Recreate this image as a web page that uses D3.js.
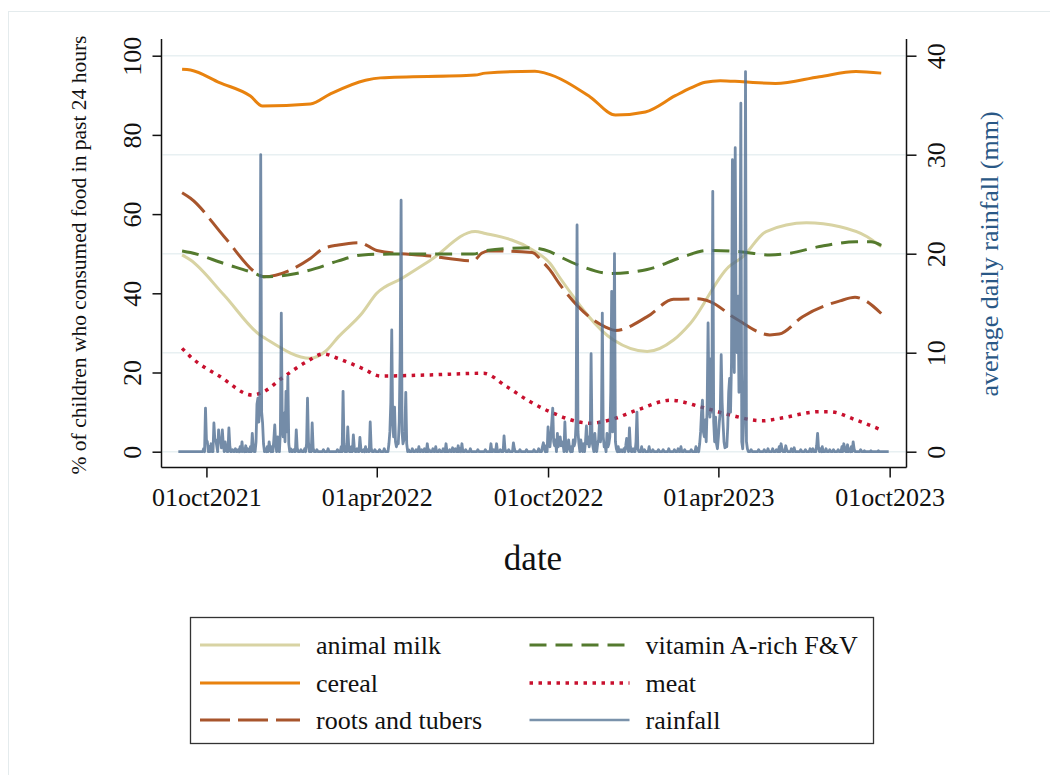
<!DOCTYPE html>
<html>
<head>
<meta charset="utf-8">
<script src="https://cdn.jsdelivr.net/npm/d3@7"></script>
<style>
  body { margin: 0; background: #fff; }
  svg { display: block; }
  text { font-family: "Liberation Serif", "Times New Roman", serif; fill: #111; }
</style>
</head>
<body>
<svg id="chart" width="1050" height="775"></svg>
<script>
// food groups, % of children, [date, value]
const milk = [
  ['2021-09-05', 49.7], ['2021-09-14', 48.4], ['2021-10-20', 39.5], ['2021-11-27', 29.5], ['2021-12-03', 28.6],
  ['2022-01-20', 23.6], ['2022-02-05', 25.3], ['2022-02-19', 29.0], ['2022-03-16', 34.9],
  ['2022-04-01', 40.0], ['2022-04-28', 43.8], ['2022-05-28', 48.3], ['2022-07-15', 55.6], ['2022-07-26', 55.1],
  ['2022-09-15', 50.9], ['2022-10-03', 47.6], ['2022-10-14', 43.8], ['2022-12-10', 28.2],
  ['2023-01-15', 25.3], ['2023-02-12', 28.2], ['2023-03-02', 32.4], ['2023-04-12', 46.7],
  ['2023-04-27', 49.2], ['2023-05-22', 55.6], ['2023-07-04', 57.8], ['2023-08-09', 56.8],
  ['2023-09-07', 54.3], ['2023-09-22', 51.8]
];
const cereal = [
  ['2021-09-05', 96.6], ['2021-09-14', 96.4], ['2021-10-15', 93.2], ['2021-11-17', 89.8], ['2021-11-30', 87.3],
  ['2022-01-20', 87.8], ['2022-02-10', 90.3], ['2022-03-20', 93.8], ['2022-04-05', 94.4],
  ['2022-07-15', 95.1], ['2022-07-26', 95.6], ['2022-09-17', 96.1], ['2022-09-28', 95.6],
  ['2022-11-15', 89.6], ['2022-12-12', 85.0], ['2023-01-13', 85.8], ['2023-02-14', 89.9],
  ['2023-03-02', 91.8], ['2023-03-18', 93.3], ['2023-04-03', 93.7], ['2023-04-27', 93.4],
  ['2023-06-01', 93.0], ['2023-07-18', 94.7], ['2023-08-26', 96.0], ['2023-09-22', 95.6]
];
const roots = [
  ['2021-09-05', 65.4], ['2021-09-14', 64.0], ['2021-10-20', 54.3], ['2021-11-24', 45.0], ['2021-12-01', 44.2],
  ['2022-01-20', 48.8], ['2022-02-03', 51.3], ['2022-02-19', 52.2], ['2022-03-14', 52.8],
  ['2022-03-23', 51.9], ['2022-04-01', 50.8], ['2022-05-28', 49.4], ['2022-07-13', 48.2],
  ['2022-07-22', 50.1], ['2022-07-29', 50.7], ['2022-09-14', 50.3], ['2022-09-25', 48.0],
  ['2022-10-03', 45.9], ['2022-10-14', 42.1], ['2022-12-02', 31.4], ['2022-12-12', 30.6],
  ['2023-01-15', 34.1], ['2023-02-12', 38.5], ['2023-03-10', 38.6], ['2023-03-23', 37.9],
  ['2023-04-19', 33.7], ['2023-05-26', 29.5], ['2023-06-05', 29.7], ['2023-06-30', 34.1],
  ['2023-08-09', 38.1], ['2023-08-25', 39.0], ['2023-09-02', 38.5], ['2023-09-22', 34.9]
];
const vitA = [
  ['2021-09-05', 50.7], ['2021-09-14', 50.3], ['2021-10-20', 47.5], ['2021-11-22', 45.0], ['2021-12-01', 44.2],
  ['2022-01-05', 45.0], ['2022-01-26', 46.3], ['2022-02-19', 48.2], ['2022-03-17', 49.7],
  ['2022-04-15', 49.9], ['2022-07-13', 49.9], ['2022-07-27', 50.8], ['2022-09-12', 51.5],
  ['2022-10-03', 50.5], ['2022-10-14', 49.2], ['2022-11-07', 46.7], ['2022-12-07', 45.0],
  ['2023-01-15', 46.0], ['2023-02-22', 49.2], ['2023-03-20', 50.8], ['2023-04-24', 50.5],
  ['2023-05-26', 49.7], ['2023-06-16', 50.1], ['2023-07-18', 51.8], ['2023-08-26', 53.0],
  ['2023-09-11', 53.0], ['2023-09-22', 52.1]
];
const meat = [
  ['2021-09-05', 26.1], ['2021-09-13', 24.2], ['2021-10-16', 18.9], ['2021-11-19', 14.3], ['2021-11-29', 14.9],
  ['2021-12-22', 18.8], ['2022-01-16', 22.7], ['2022-02-03', 24.7], ['2022-02-18', 23.6],
  ['2022-03-17', 21.0], ['2022-04-05', 19.1], ['2022-05-28', 19.4], ['2022-07-24', 19.8],
  ['2022-08-18', 16.4], ['2022-09-12', 12.6], ['2022-10-03', 10.1], ['2022-11-15', 7.2],
  ['2022-12-06', 8.0], ['2023-01-04', 10.5], ['2023-02-09', 13.0], ['2023-03-15', 11.2],
  ['2023-04-13', 9.3], ['2023-05-18', 7.8], ['2023-06-05', 8.4], ['2023-07-18', 10.1],
  ['2023-07-29', 10.1], ['2023-08-26', 8.0], ['2023-09-22', 5.5]
];

// daily rainfall (mm): wet days as [day since rainStart, mm]; all other days are dry (0)
const rainStart = '2021-09-01';
const rainDays = 760;
const rainWet = [
  [27,0.3],[29,4.4],[30,1.2],[31,1.0],[33,0.5],[35,0.8],[38,2.9],[39,1.2],[40,1.2],[41,0.6],
  [43,2.2],[44,1.0],[45,1.2],[46,0.4],[47,2.2],[48,0.8],[50,1.0],[51,0.3],[54,2.4],[55,0.6],
  [58,0.2],[61,0.3],[64,0.2],[66,0.5],[68,1.0],[70,0.3],[72,0.6],[74,0.3],[77,0.5],[79,1.85],
  [80,0.4],[83,1.0],[84,4.8],[85,5.4],[86,3.0],[87,5.0],[88,30.0],[89,4.0],[90,2.9],[91,0.8],
  [93,0.3],[95,0.5],[97,1.0],[98,0.3],[100,0.5],[102,1.2],[103,2.7],[104,0.8],[106,1.5],[107,0.6],
  [109,2.0],[110,14.0],[111,3.0],[112,1.5],[113,3.9],[114,1.0],[115,6.1],[116,2.0],[117,7.6],[118,0.8],
  [120,0.3],[123,0.2],[126,2.2],[127,0.4],[131,0.2],[135,0.3],[137,0.8],[138,5.4],[139,1.0],[141,0.5],
  [143,2.9],[144,0.4],[148,0.2],[155,0.2],[160,0.3],[170,0.2],[174,0.5],[176,6.1],[177,0.8],[179,0.4],
  [181,2.5],[182,0.6],[185,0.5],[187,1.7],[188,0.4],[191,0.3],[194,1.45],[195,0.3],[198,0.2],[200,0.5],
  [202,0.2],[205,3.0],[206,0.4],[210,0.2],[215,0.2],[220,0.3],[225,0.8],[226,2.0],[227,5.0],[228,12.3],
  [229,3.0],[230,1.5],[231,4.5],[232,1.0],[233,0.5],[234,1.0],[235,0.8],[236,3.0],[237,10.0],[238,25.4],
  [239,2.0],[240,0.8],[241,1.2],[242,2.0],[243,6.0],[244,0.8],[246,0.2],[250,0.3],[254,0.2],[257,0.5],
  [260,0.2],[263,0.3],[266,0.8],[268,0.2],[272,0.3],[275,0.5],[279,0.2],[283,0.3],[286,0.8],[290,0.2],
  [293,0.4],[296,0.3],[299,0.6],[301,0.3],[303,0.8],[307,0.2],[312,0.3],[320,0.2],[328,0.2],[334,0.8],
  [337,0.2],[340,0.8],[344,0.2],[348,1.6],[349,0.3],[353,0.2],[358,0.9],[359,0.3],[365,0.2],[372,0.2],
  [380,0.2],[385,0.3],[389,0.5],[390,0.9],[391,0.3],[393,0.6],[395,2.5],[396,0.8],[397,0.5],[398,1.5],
  [399,3.0],[400,4.4],[401,1.0],[402,0.6],[403,1.2],[405,1.85],[406,0.5],[407,1.0],[408,1.5],[409,0.6],
  [410,1.0],[411,0.8],[413,3.0],[414,0.5],[416,0.6],[417,1.2],[418,0.3],[420,0.5],[422,1.2],[423,0.6],
  [424,1.0],[425,3.0],[426,22.9],[427,2.0],[428,0.8],[430,1.2],[431,0.5],[433,0.8],[435,1.0],[436,2.6],
  [437,0.8],[438,1.5],[439,0.5],[440,1.2],[441,9.9],[442,1.0],[443,0.5],[445,1.85],[446,0.6],[448,0.8],
  [449,1.2],[450,3.0],[451,1.0],[452,2.0],[453,14.0],[454,1.5],[455,0.5],[456,0.6],[458,1.85],[459,0.5],
  [460,0.8],[461,1.5],[462,6.0],[463,16.2],[464,2.0],[465,5.0],[466,20.0],[467,1.0],[468,0.3],[470,0.5],
  [473,0.2],[476,0.3],[478,0.6],[479,1.35],[480,0.4],[482,2.4],[483,0.5],[486,0.3],[489,1.0],[490,4.0],
  [491,0.3],[495,0.5],[498,0.2],[503,0.5],[507,0.2],[513,0.2],[518,0.2],[524,0.3],[530,0.2],[534,0.3],
  [537,0.5],[541,0.2],[548,0.2],[553,0.5],[555,0.3],[557,0.8],[558,2.0],[559,4.0],[560,5.2],[561,2.0],
  [562,1.5],[563,3.2],[564,1.0],[565,4.5],[566,13.0],[567,5.0],[568,3.5],[569,9.4],[570,4.0],[571,26.3],
  [572,3.0],[573,1.0],[574,3.5],[575,0.8],[576,0.3],[577,1.5],[578,3.0],[579,4.0],[580,9.8],[581,5.0],
  [582,2.9],[583,1.0],[584,0.4],[585,0.5],[586,0.5],[587,2.5],[588,6.0],[589,7.4],[590,4.0],[591,9.0],
  [592,29.5],[593,14.0],[594,8.0],[595,30.7],[596,12.0],[597,10.0],[598,15.7],[599,6.0],[600,14.0],[601,35.2],
  [602,1.0],[603,0.3],[604,3.0],[605,8.0],[606,38.4],[607,1.0],[608,0.3],[612,0.2],[620,0.2],[626,0.2],
  [630,0.3],[635,0.3],[639,0.2],[642,0.5],[644,0.8],[645,0.3],[649,0.6],[650,0.2],[655,0.3],[658,0.4],
  [665,0.2],[670,0.2],[675,0.3],[678,0.3],[682,0.6],[683,1.85],[684,0.4],[686,0.3],[688,0.5],[692,0.3],
  [696,0.2],[700,0.2],[705,0.2],[709,0.5],[711,0.8],[712,0.4],[715,0.7],[717,0.3],[719,0.5],[721,1.0],
  [722,0.3],[729,0.2],[733,0.1],[740,0.1],[748,0.1]
];

const xTicks = ['2021-10-01', '2022-04-01', '2022-10-01', '2023-04-01', '2023-10-01'];
const leftTicks = [0, 20, 40, 60, 80, 100];
const rightTicks = [0, 10, 20, 30, 40];

const parse = d3.utcParse('%Y-%m-%d');
const fmt = d3.utcFormat('%d%b%Y');

const svg = d3.select('#chart');
svg.append('rect').attr('width', 1050).attr('height', 775).attr('fill', '#fff');
// faint outer graph-region border
svg.append('rect')
  .attr('x', 8.5).attr('y', 11.5).attr('width', 1100).attr('height', 800)
  .attr('fill', 'none').attr('stroke', '#e4ebed').attr('stroke-width', 1);

const plot = { left: 161.5, right: 906.5, top: 39, bottom: 467.5 };

const x = d3.scaleUtc()
  .domain([parse('2021-08-14'), parse('2023-10-19')])
  .range([plot.left, plot.right]);
const y = d3.scaleLinear().domain([0, 100]).range([451.7, 55.7]);
const yRain = d3.scaleLinear().domain([0, 40]).range([451.7, 55.7]);

/* grid (on the rainfall ticks) */
svg.append('g')
  .selectAll('line')
  .data(rightTicks)
  .enter()
  .append('line')
  .attr('x1', plot.left + 1).attr('x2', plot.right - 1)
  .attr('y1', d => yRain(d)).attr('y2', d => yRain(d))
  .attr('stroke', '#e8f0f2').attr('stroke-width', 1.6);

/* food lines */
const foodLine = d3.line()
  .x(d => x(parse(d[0])))
  .y(d => y(d[1]))
  .curve(d3.curveMonotoneX);

const series = [
  { label: 'animal milk', data: milk, color: '#d8d3a3', dash: null, width: 3 },
  { label: 'cereal', data: cereal, color: '#e8820e', dash: null, width: 3 },
  { label: 'roots and tubers', data: roots, color: '#a8552c', dash: '30,8', width: 3 },
  { label: 'vitamin A-rich F&V', data: vitA, color: '#547a2e', dash: '17,9', width: 3 },
  { label: 'meat', data: meat, color: '#c8102e', dash: '3.5,5.5', width: 3.5 }
];

svg.append('g')
  .selectAll('path')
  .data(series)
  .enter()
  .append('path')
  .attr('d', d => foodLine(d.data))
  .attr('fill', 'none')
  .attr('stroke', d => d.color)
  .attr('stroke-width', d => d.width)
  .attr('stroke-dasharray', d => d.dash);

/* rainfall */
const wet = new Map(rainWet);
const day0 = parse(rainStart);
const rain = d3.range(rainDays).map(i => [d3.utcDay.offset(day0, i), wet.get(i) || 0]);

svg.append('path')
  .attr('d', d3.line().x(d => x(d[0])).y(d => yRain(d[1]))(rain))
  .attr('fill', 'none')
  .attr('stroke', '#4d6b8f')
  .attr('stroke-opacity', 0.78)
  .attr('stroke-width', 2.8)
  .attr('stroke-linejoin', 'round');

/* axes */
const axisColor = '#111';
svg.append('line')
  .attr('x1', plot.left).attr('x2', plot.left).attr('y1', plot.top).attr('y2', plot.bottom)
  .attr('stroke', axisColor).attr('stroke-width', 1.5);
svg.append('line')
  .attr('x1', plot.right).attr('x2', plot.right).attr('y1', plot.top).attr('y2', plot.bottom)
  .attr('stroke', axisColor).attr('stroke-width', 1.5);
svg.append('line')
  .attr('x1', plot.left).attr('x2', plot.right).attr('y1', plot.bottom).attr('y2', plot.bottom)
  .attr('stroke', axisColor).attr('stroke-width', 1.5);

const leftAxis = svg.append('g')
  .attr('transform', `translate(${plot.left},0)`)
  .call(d3.axisLeft(y).tickValues(leftTicks).tickSize(9).tickSizeOuter(0));
const rightAxis = svg.append('g')
  .attr('transform', `translate(${plot.right},0)`)
  .call(d3.axisRight(yRain).tickValues(rightTicks).tickSize(10).tickSizeOuter(0));
const bottomAxis = svg.append('g')
  .attr('transform', `translate(0,${plot.bottom})`)
  .call(d3.axisBottom(x).tickValues(xTicks.map(parse)).tickSize(10).tickSizeOuter(0)
    .tickFormat(d => fmt(d).toLowerCase()));

[leftAxis, rightAxis, bottomAxis].forEach(g => {
  g.attr('font-family', null);
  g.select('.domain').remove();
  g.selectAll('.tick line').attr('stroke', axisColor).attr('stroke-width', 1.5);
  g.selectAll('.tick text')
    .style('font-family', '"Liberation Serif", "Times New Roman", serif')
    .style('font-size', '26px')
    .attr('fill', '#111');
});

leftAxis.selectAll('.tick text')
  .attr('transform', 'rotate(-90)')
  .attr('x', 0).attr('y', -21).attr('dy', 0)
  .attr('text-anchor', 'middle');
rightAxis.selectAll('.tick text')
  .attr('transform', 'rotate(-90)')
  .attr('x', 0).attr('y', 38).attr('dy', 0)
  .attr('text-anchor', 'middle');
bottomAxis.selectAll('.tick text')
  .attr('y', 38.5).attr('dy', 0);

/* titles */
svg.append('text')
  .attr('transform', 'translate(86,255) rotate(-90)')
  .attr('text-anchor', 'middle')
  .style('font-size', '21.5px')
  .text('% of children who consumed food in past 24 hours');
svg.append('text')
  .attr('transform', 'translate(998,254) rotate(-90)')
  .attr('text-anchor', 'middle')
  .style('font-size', '26px')
  .style('fill', '#2a5886')
  .text('average daily rainfall (mm)');
svg.append('text')
  .attr('x', 533).attr('y', 570)
  .attr('text-anchor', 'middle')
  .style('font-size', '35px')
  .text('date');

/* legend */
const legendItems = series.concat([
  { label: 'rainfall', color: '#7a92ab', dash: null, width: 2.6 }
]);
const legendOrder = ['animal milk', 'cereal', 'roots and tubers', 'vitamin A-rich F&V', 'meat', 'rainfall'];
const legendRowY = [645, 683, 720];
const legendColX = [200, 529.5];

const legend = svg.append('g');
legend.append('rect')
  .attr('x', 190.5).attr('y', 617.5).attr('width', 683).attr('height', 126)
  .attr('fill', '#fff').attr('stroke', '#333').attr('stroke-width', 1.3);

const item = legend.selectAll('g.item')
  .data(legendOrder.map(l => legendItems.find(s => s.label === l)))
  .enter()
  .append('g')
  .attr('class', 'item')
  .attr('transform', (d, i) => `translate(${legendColX[Math.floor(i / 3)]},${legendRowY[i % 3]})`);
item.append('line')
  .attr('x1', 0).attr('x2', 100)
  .attr('stroke', d => d.color)
  .attr('stroke-width', d => d.width)
  .attr('stroke-dasharray', d => d.dash);
item.append('text')
  .attr('x', 116).attr('y', 9)
  .style('font-size', '26px')
  .text(d => d.label);
</script>
</body>
</html>
